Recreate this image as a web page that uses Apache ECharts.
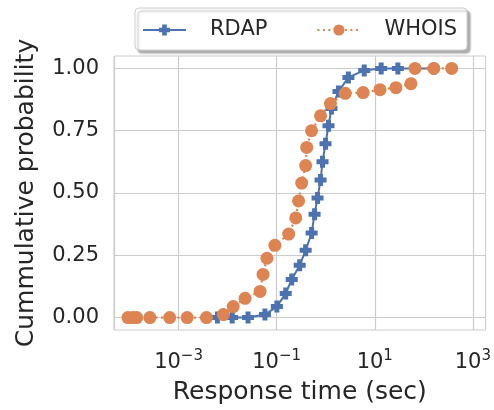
<!DOCTYPE html>
<html>
<head>
<meta charset="utf-8">
<script src="https://cdn.jsdelivr.net/npm/echarts@6/dist/echarts.min.js"></script>
<style>
  html, body { margin: 0; padding: 0; background: #fff; }
  #chart { width: 494px; height: 410px; }
</style>
</head>
<body>
<div id="chart"></div>
<script>
// Response times (seconds) and cumulative probabilities
const rdapTime = [0.0062, 0.0124, 0.0261, 0.0577, 0.101, 0.153, 0.203, 0.295, 0.39, 0.516,
                  0.593, 0.682, 0.785, 0.861, 0.99, 1.14, 1.31, 1.82, 2.9, 6.1, 13.5, 29.6, 160];
const rdapProb = [0.0, 0.0, 0.0, 0.012, 0.044, 0.097, 0.153, 0.210, 0.270, 0.339,
                  0.415, 0.480, 0.552, 0.625, 0.698, 0.770, 0.839, 0.907, 0.964, 0.992, 1.0, 1.0, 1.0];

const whoisTime = [0.000093, 0.000117, 0.00014, 0.00026, 0.00066, 0.0015, 0.0037, 0.0082, 0.0130,
                   0.0227, 0.0459, 0.0527, 0.0633, 0.092, 0.176, 0.245, 0.28, 0.324, 0.39, 0.41,
                   0.515, 0.785, 1.25, 2.5, 5.8, 12.8, 27, 54.5, 66, 160, 370];
const whoisProb = [0.0, 0.0, 0.0, 0.0, 0.0, 0.0, 0.0, 0.012, 0.044,
                   0.077, 0.105, 0.173, 0.238, 0.29, 0.335, 0.40, 0.468, 0.54, 0.61, 0.683,
                   0.75, 0.81, 0.859, 0.90, 0.903, 0.915, 0.923, 0.939, 1.0, 1.0, 1.0];

const yTicks = [0, 0.25, 0.5, 0.75, 1.0];
const xTickExponents = [-3, -1, 1, 3];
const seriesNames = ['RDAP', 'WHOIS'];

const TXT = '#262626';
const GRID = '#cccccc';
const NONE = 'rgba(0,0,0,0)';
const BLUE = '#4c72b0';
const ORANGE = '#dd8452';
const FONT = 'DejaVu Sans';
const plusPath = 'path://M-1.25,-3L1.25,-3L1.25,-1.25L3,-1.25L3,1.25L1.25,1.25L1.25,3L-1.25,3L-1.25,1.25L-3,1.25L-3,-1.25L-1.25,-1.25Z';

const pairs = (xs, ys) => xs.map((x, i) => [x, ys[i]]);

const chart = echarts.init(document.getElementById('chart'), null, { renderer: 'canvas' });
chart.setOption({
  animation: false,
  backgroundColor: '#ffffff',
  textStyle: { fontFamily: FONT, color: TXT },
  grid: {
    left: 114, right: 5, top: 56, bottom: 80,
    show: true, borderColor: GRID, borderWidth: 1, backgroundColor: 'transparent'
  },
  legend: {
    left: 135, top: 8,
    padding: [10, 10, 8, 7],
    itemWidth: 43, itemHeight: 14, itemGap: 49,
    backgroundColor: '#ffffff',
    borderColor: GRID, borderWidth: 1, borderRadius: 4,
    shadowColor: 'rgba(0,0,0,0.3)', shadowBlur: 2, shadowOffsetX: 3, shadowOffsetY: 3,
    textStyle: { fontFamily: FONT, fontSize: 21, color: TXT, padding: [0, 0, 0, 19], lineHeight: 24 },
    data: seriesNames
  },
  xAxis: {
    type: 'log', logBase: 10,
    min: Math.pow(10, -4.316), max: Math.pow(10, 3.26),
    name: 'Response time (sec)', nameLocation: 'middle', nameGap: 50,
    nameTextStyle: { fontFamily: FONT, fontSize: 25, color: TXT },
    axisLine: { show: false }, axisTick: { show: false },
    axisLabel: {
      margin: 19, fontFamily: FONT, color: TXT,
      showMinLabel: false, showMaxLabel: false,
      formatter: function (v) {
        const e = Math.log10(v);
        const r = Math.round(e);
        if (Math.abs(e - r) > 0.01 || xTickExponents.indexOf(r) < 0) return '';
        return '{b|10}{s|' + (r < 0 ? '\u2212' + (-r) : r) + '}';
      },
      rich: {
        b: { fontFamily: FONT, fontSize: 21, color: TXT },
        s: { fontFamily: FONT, fontSize: 15, color: TXT, padding: [0, 0, 12, 0] }
      }
    },
    splitLine: { show: true, lineStyle: { color: [GRID, NONE], width: 1.2 } }
  },
  yAxis: {
    type: 'value', min: -0.05, max: 1.05, interval: 0.05,
    name: 'Cummulative probability', nameLocation: 'middle', nameGap: 75,
    nameTextStyle: { fontFamily: FONT, fontSize: 25, color: TXT },
    axisLine: { show: false }, axisTick: { show: false },
    axisLabel: {
      margin: 15, fontFamily: FONT, fontSize: 21, color: TXT,
      formatter: function (v) {
        for (const t of yTicks) if (Math.abs(v - t) < 1e-6) return t.toFixed(2);
        return '';
      }
    },
    splitLine: { show: true, lineStyle: { color: [NONE, GRID, NONE, NONE, NONE], width: 1.2 } }
  },
  series: [
    {
      name: seriesNames[0], type: 'line',
      data: pairs(rdapTime, rdapProb),
      symbol: plusPath, symbolSize: 12,
      itemStyle: { color: BLUE },
      lineStyle: { color: BLUE, width: 2 },
      emphasis: { disabled: true }
    },
    {
      name: seriesNames[1], type: 'line',
      data: pairs(whoisTime, whoisProb),
      symbol: 'circle', symbolSize: 13,
      itemStyle: { color: ORANGE },
      lineStyle: { color: ORANGE, width: 2.2, type: [2, 3.5] },
      emphasis: { disabled: true }
    }
  ]
});
</script>
</body>
</html>
